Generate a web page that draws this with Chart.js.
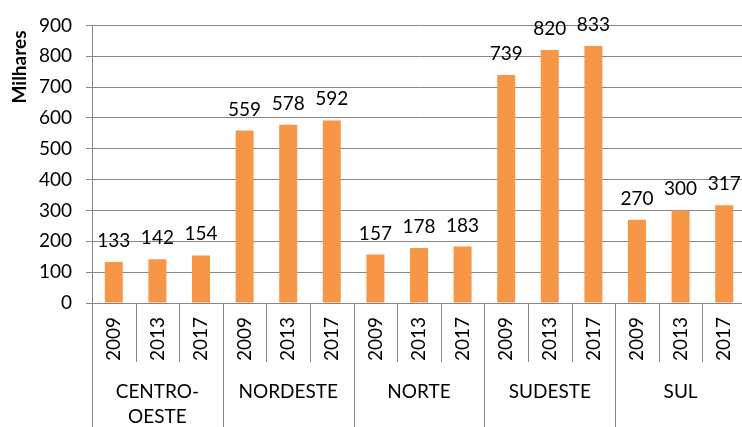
<!DOCTYPE html>
<html>
<head>
<meta charset="utf-8">
<script src="https://cdn.jsdelivr.net/npm/chart.js@4.4.1/dist/chart.umd.min.js"></script>
<style>
  html, body { margin: 0; padding: 0; background: #fff; overflow: hidden; }
  #wrap { width: 746px; height: 427px; }
</style>
</head>
<body>
<div id="wrap"><canvas id="myBarChart"></canvas></div>
<script>
const regions = [["CENTRO-", "OESTE"], ["NORDESTE"], ["NORTE"], ["SUDESTE"], ["SUL"]];
const years = ["2009", "2013", "2017"];
const values = [133, 142, 154, 559, 578, 592, 157, 178, 183, 739, 820, 833, 270, 300, 317];
const yTicks = [0, 100, 200, 300, 400, 500, 600, 700, 800, 900];

const gridColor = "#868686";
const fontFamily = "Lato, 'Open Sans', sans-serif";

document.addEventListener("DOMContentLoaded", function () {
    const ctx = document.getElementById("myBarChart");

    // one label per bar: region + year
    const labels = [];
    regions.forEach(function (r) {
        years.forEach(function (y) {
            labels.push(r.join("") + " " + y);
        });
    });

    const labelsPlugin = {
        id: "labelsPlugin",
        afterDatasetsDraw: function (chart) {
            const c = chart.ctx;
            const meta = chart.getDatasetMeta(0);
            c.save();
            c.fillStyle = "#000";
            c.font = "19px " + fontFamily;
            c.textAlign = "center";
            c.textBaseline = "alphabetic";
            meta.data.forEach(function (bar, i) {
                c.fillText(values[i], bar.x, bar.y - 15);
            });
            c.restore();
        },
        afterDraw: function (chart) {
            const c = chart.ctx;
            const area = chart.chartArea;
            const xs = chart.scales.x;
            const w = (area.right - area.left) / labels.length;
            const h = chart.height;

            c.save();
            // separators under the axis
            c.strokeStyle = gridColor;
            c.lineWidth = 1;
            for (let i = 0; i <= labels.length; i++) {
                const x = Math.round(area.left + i * w) + 0.5;
                c.beginPath();
                c.moveTo(x, area.bottom);
                c.lineTo(x, i % years.length === 0 ? h : area.bottom + 59);
                c.stroke();
            }

            // year labels, vertical
            c.fillStyle = "#000";
            c.font = "19px " + fontFamily;
            c.textAlign = "center";
            c.textBaseline = "middle";
            labels.forEach(function (l, i) {
                const x = xs.getPixelForValue(i);
                c.save();
                c.translate(x, area.bottom + 36);
                c.rotate(-Math.PI / 2);
                c.fillText(years[i % years.length], 0, 0);
                c.restore();
            });

            // region labels
            regions.forEach(function (r, g) {
                const x = area.left + (g * years.length + years.length / 2) * w;
                r.forEach(function (line, k) {
                    c.fillText(line, x, area.bottom + 89 + k * 25);
                });
            });

            // axis title
            c.font = "bold 19px " + fontFamily;
            c.translate(20, 67);
            c.rotate(-Math.PI / 2);
            c.fillText("Milhares", 0, 0);
            c.restore();
        }
    };

    const myBarChart = new Chart(ctx, {
        type: "bar",
        data: {
            labels: labels,
            datasets: [{
                data: values,
                backgroundColor: "#F79646",
                borderWidth: 0,
                categoryPercentage: 1,
                barPercentage: 0.413
            }]
        },
        options: {
            responsive: true,
            maintainAspectRatio: false,
            animation: false,
            layout: {
                padding: { top: 22, right: 0, bottom: 0, left: 0 }
            },
            plugins: {
                legend: { display: false },
                tooltip: { enabled: false }
            },
            scales: {
                x: {
                    ticks: { display: false },
                    grid: { display: false },
                    border: { display: false },
                    afterFit: function (scale) {
                        scale.height = 124;
                    }
                },
                y: {
                    min: 0,
                    max: 900,
                    afterBuildTicks: function (scale) {
                        scale.ticks = yTicks.map(function (v) { return { value: v }; });
                    },
                    ticks: {
                        color: "#000",
                        padding: 14,
                        font: { family: fontFamily, size: 19 }
                    },
                    grid: {
                        color: gridColor,
                        tickLength: 6
                    },
                    border: { color: gridColor },
                    afterFit: function (scale) {
                        scale.width = 92;
                    }
                }
            }
        },
        plugins: [labelsPlugin]
    });
});
</script>
</body>
</html>
